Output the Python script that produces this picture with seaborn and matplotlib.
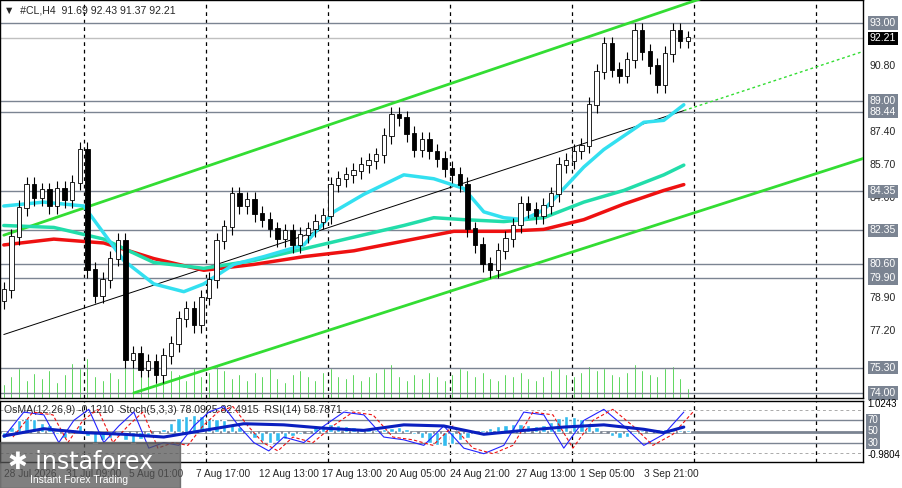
import numpy as np
import pandas as pd
import matplotlib
matplotlib.use("Agg")
import matplotlib.pyplot as plt
import seaborn as sns

sns.set_style("white")
plt.rcParams['font.family'] = ['Liberation Sans', 'DejaVu Sans']

# --- data ---
closes = [79.3, 82.0, 83.5, 84.7, 84.0, 84.4, 83.6, 84.5, 83.9, 84.8, 86.5, 80.3, 79.0, 79.8, 80.9,
          81.8, 75.7, 76.0, 75.2, 75.6, 74.9, 75.9, 76.5, 77.8, 78.3, 77.5, 78.9, 79.8, 81.8, 82.5,
          84.2, 83.6, 83.9, 83.2, 82.9, 82.4, 81.9, 82.3, 81.6, 82.1, 82.4, 82.8, 83.1, 84.7, 85.0,
          85.2, 85.4, 85.7, 85.9, 86.2, 87.2, 88.3, 88.1, 87.3, 86.5, 87.0, 86.4, 86.0, 85.5, 85.2,
          84.7, 82.4, 81.6, 80.6, 80.3, 81.3, 81.9, 82.6, 83.7, 83.4, 83.1, 83.6, 84.2, 85.7, 85.9,
          86.4, 86.7, 88.8, 90.5, 91.9, 90.6, 90.3, 91.1, 92.6, 91.5, 90.8, 89.8, 91.4, 92.6, 92.1, 92.21]
volumes = [14, 22, 30, 18, 25, 20, 28, 16, 24, 35, 30, 40, 22, 18, 26, 20, 38, 30, 25, 22, 34, 20, 28,
           24, 18, 30, 22, 26, 32, 28, 20, 24, 18, 26, 22, 30, 20, 16, 24, 28, 22, 18, 26, 30, 22, 20,
           24, 18, 22, 26, 30, 34, 22, 18, 24, 20, 26, 22, 18, 24, 30, 28, 22, 26, 20, 18, 24, 22, 26,
           20, 18, 22, 28, 30, 24, 22, 26, 32, 28, 30, 24, 22, 26, 34, 28, 24, 22, 30, 32, 20, 10]

ma_px = [0, 40, 80, 120, 150, 180, 200, 230, 260, 300, 330, 360, 400, 430, 460, 480, 500, 520, 540,
         560, 580, 600, 620, 640, 660, 680]
ma_fast = [83.6, 83.8, 83.6, 80.8, 79.6, 79.2, 79.6, 80.6, 81.0, 81.6, 83.3, 84.2, 85.2, 85.0, 84.5,
           83.3, 83.0, 82.9, 83.4, 84.5, 85.6, 86.5, 87.2, 87.9, 88.0, 88.8]
ma2_px = [0, 50, 100, 150, 200, 250, 300, 350, 400, 430, 460, 500, 540, 580, 620, 660, 680]
ma_mid = [82.6, 82.5, 81.9, 80.7, 80.4, 80.8, 81.4, 82.0, 82.6, 83.0, 82.9, 82.8, 83.0, 83.8, 84.4,
          85.2, 85.7]
ma3_px = [0, 50, 100, 150, 200, 250, 300, 350, 400, 450, 500, 540, 580, 620, 660, 680]
ma_slow = [81.6, 81.9, 81.7, 80.9, 80.3, 80.6, 81.0, 81.3, 81.8, 82.3, 82.3, 82.4, 82.9, 83.7, 84.4, 84.7]

levels = [93.00, 89.00, 88.44, 84.35, 82.35, 80.60, 79.90, 75.30, 74.00]
axis_ticks = [90.80, 87.40, 85.70, 84.00, 78.90, 77.20]
last_price = 92.21

# channel lines: (px, price) endpoints
upper_chan = ([0, 700], [82.1, 94.3])
lower_chan = ([130, 863], [74.0, 86.1])
mid_chan = ([0, 680], [77.0, 88.5])
mid_ext = ([680, 863], [88.5, 91.6])

xtick_labels = ["28 Jul 2026", "31 Jul 09:00", "5 Aug 01:00", "7 Aug 17:00", "12 Aug 13:00",
                "17 Aug 13:00", "20 Aug 05:00", "24 Aug 21:00", "27 Aug 13:00", "1 Sep 05:00",
                "3 Sep 21:00"]
xtick_px = [0, 62, 125, 192, 255, 318, 382, 446, 512, 576, 640]

# indicator panel
osma_vals = [-0.3, 0.2, 0.5, 0.6, 0.55, 0.4, 0.3, -0.1, -0.3, 0.1, 0.3, -0.2, -0.5, -0.4, -0.3, -0.2,
             -0.4, -0.5, -0.35, -0.2, -0.05, 0.1, 0.4, 0.6, 0.7, 0.75, 0.7, 0.6, 0.55, 0.5, 0.35, 0.2,
             -0.1, -0.3, -0.45, -0.5, -0.45, -0.35, -0.2, -0.1, 0.0, 0.2, 0.3, 0.35, 0.3, 0.25, 0.2,
             0.15, 0.1, 0.05, 0.1, 0.15, 0.2, 0.1, -0.1, -0.3, -0.5, -0.6, -0.65, -0.55, -0.4, -0.3,
             -0.1, 0.05, 0.15, 0.25, 0.3, 0.35, 0.35, 0.3, 0.25, 0.3, 0.45, 0.6, 0.7, 0.65, 0.55,
             0.4, 0.2, 0.0, -0.2, -0.3, -0.25, -0.1, 0.05, 0.1, 0.12, 0.1, 0.08, 0.06, 0.05]
stoch_px = [0, 20, 40, 55, 70, 85, 100, 115, 130, 145, 160, 175, 190, 205, 220, 235, 250, 265, 280, 300,
            320, 340, 360, 380, 400, 420, 440, 460, 480, 500, 520, 540, 560, 580, 600, 620, 640, 660, 680]
stoch_k = [40, 85, 80, 30, 70, 90, 30, 60, 85, 20, 30, 25, 60, 85, 95, 60, 30, 15, 40, 30, 60, 85, 80,
           40, 35, 25, 60, 20, 10, 25, 85, 80, 20, 70, 90, 60, 25, 45, 85]
rsi_px = [0, 40, 80, 120, 160, 200, 240, 280, 320, 360, 400, 440, 480, 520, 560, 600, 640, 660, 680]
rsi_vals = [42, 55, 48, 45, 40, 52, 64, 62, 56, 52, 62, 60, 45, 52, 58, 62, 54, 48, 58]

# --- layout ---
W, H = 902, 488
fig = plt.figure(figsize=(W / 100, H / 100), dpi=100)
plot_w = 863
step = 7.6
fs = 7.6
grey = "#7b8492"

def px(v):
    return np.asarray(v) / step

ax = fig.add_axes([0, 1 - 398 / H, plot_w / W, 398 / H])
ax2 = fig.add_axes([0, 1 - 462 / H, plot_w / W, 61 / H])
ymin, ymax = 73.74, 94.18
xmax = plot_w / step - 0.5

# volumes (scaled into price units at the bottom)
x_idx = np.arange(len(closes))
vol_scale = (ymax - ymin) / 398
ax.bar(x_idx, np.array(volumes) * vol_scale, bottom=ymin, width=0.25, color="#00c000", zorder=1)

# horizontal levels
for lv in levels:
    ax.axhline(lv, color=grey, lw=1, zorder=2)
ax.axhline(last_price, color="#c0c0c0", lw=1, zorder=2)

# vertical dashed grid
for gx in [80, 202, 324, 446, 568, 690, 812]:
    ax.axvline(gx / step, color="black", ls=(0, (3, 3)), lw=0.9, zorder=1)
    ax2.axvline(gx / step, color="black", ls=(0, (3, 3)), lw=0.9, zorder=1)

# channels
ax.plot(px(upper_chan[0]), upper_chan[1], color="#33dd33", lw=2, zorder=3)
ax.plot(px(lower_chan[0]), lower_chan[1], color="#33dd33", lw=2, zorder=3)
ax.plot(px(mid_chan[0]), mid_chan[1], color="black", lw=0.7, zorder=3)
ax.plot(px(mid_ext[0]), mid_ext[1], color="#33dd33", lw=1, ls=(0, (2, 2)), zorder=3)

# moving averages
sns.lineplot(x=px(ma3_px), y=ma_slow, ax=ax, color="#ee1111", lw=2.5, zorder=4)
sns.lineplot(x=px(ma2_px), y=ma_mid, ax=ax, color="#22ddaa", lw=2.5, zorder=4)
sns.lineplot(x=px(ma_px), y=ma_fast, ax=ax, color="#33e0f0", lw=2.5, zorder=4)

# candles
opens = [closes[0] - 0.6] + closes[:-1]
for i, (o, c) in enumerate(zip(opens, closes)):
    hi, lo = max(o, c) + 0.4, min(o, c) - 0.4
    ax.vlines(i, lo, hi, color="black", lw=0.8, zorder=5)
    ax.bar(i, abs(c - o) + 0.05, bottom=min(o, c), width=0.6,
           color="white" if c >= o else "black", edgecolor="black", lw=0.6, zorder=6)

ax.set_xlim(-0.5, xmax)
ax.set_ylim(ymin, ymax)
ax.set_xticks([])
ax.set_yticks([])
ax.text(0.005, 0.985, "▼  #CL,H4  91.69 92.43 91.37 92.21", transform=ax.transAxes,
        fontsize=fs, va="top", ha="left")

# right axis labels
for t in axis_ticks:
    ax.text(1.008, t, f"{t:.2f}", transform=ax.get_yaxis_transform(), fontsize=fs, va="center")
for lv in levels:
    ax.text(1.008, lv, f"{lv:.2f}", transform=ax.get_yaxis_transform(), fontsize=fs, va="center",
            color="white", bbox=dict(boxstyle="square,pad=0.15", fc=grey, ec="none"))
ax.text(1.008, last_price, f"{last_price:.2f}", transform=ax.get_yaxis_transform(), fontsize=fs,
        va="center", color="white", bbox=dict(boxstyle="square,pad=0.15", fc="black", ec="none"))

# indicator panel
ax2.set_ylim(-5, 105)
for lv, c, w in [(70, grey, 1), (50, grey, 2), (30, grey, 1)]:
    ax2.axhline(lv, color=c, lw=w, zorder=2)
for lv in [88, 12]:
    ax2.axhline(lv, color="#aaaaaa", lw=0.7, ls=(0, (3, 3)), zorder=1)
ax2.bar(x_idx, np.array(osma_vals) * 40, bottom=50, width=0.6, color="#33bbee", zorder=3)
sns.lineplot(x=px(stoch_px), y=stoch_k, ax=ax2, color="#2222ff", lw=0.8, zorder=4)
sns.lineplot(x=px(stoch_px) + 1.2, y=stoch_k, ax=ax2, color="#ee1111", lw=0.8, ls=(0, (3, 2)), zorder=4)
sns.lineplot(x=px(rsi_px), y=rsi_vals, ax=ax2, color="#0a1fbf", lw=2.2, zorder=5)
ax2.set_xlim(-0.5, xmax)
ax2.set_xticks([])
ax2.set_yticks([])
ax2.text(0.005, 0.93, "OsMA(12,26,9) -0.1210  Stoch(5,3,3) 78.0925 82.4915  RSI(14) 58.7871",
         transform=ax2.transAxes, fontsize=fs, va="top")
for y, s in [(100, "1.0243"), (70, "70"), (50, "50"), (30, "30"), (8, "-0.9804")]:
    boxed = s in ("70", "50", "30")
    ax2.text(1.005, y, s, transform=ax2.get_yaxis_transform(), fontsize=fs - 0.6, va="center",
             color="white" if boxed else "black",
             bbox=dict(boxstyle="square,pad=0.15", fc=grey, ec="none") if boxed else None)

for a in (ax, ax2):
    for sp in a.spines.values():
        sp.set_color("black")
        sp.set_linewidth(1)

# x labels
for xp, lab in zip(xtick_px, xtick_labels):
    fig.text((xp + 4) / W, 1 - 474 / H, lab, fontsize=fs - 0.3, va="center", ha="left")

# watermark
fig.patches.append(plt.Rectangle((0, 0), 180 / W, 46 / H, transform=fig.transFigure,
                                 color="#555555", alpha=0.75, zorder=10))
fig.text(8 / W, 1 - 462 / H, "✱ instaforex", fontsize=17, color="white", va="center", zorder=11,
         family=['DejaVu Sans'])
fig.text(30 / W, 1 - 480 / H, "Instant Forex Trading", fontsize=7.5, color="white", va="center", zorder=11)

fig.savefig("out.png", dpi=100)
